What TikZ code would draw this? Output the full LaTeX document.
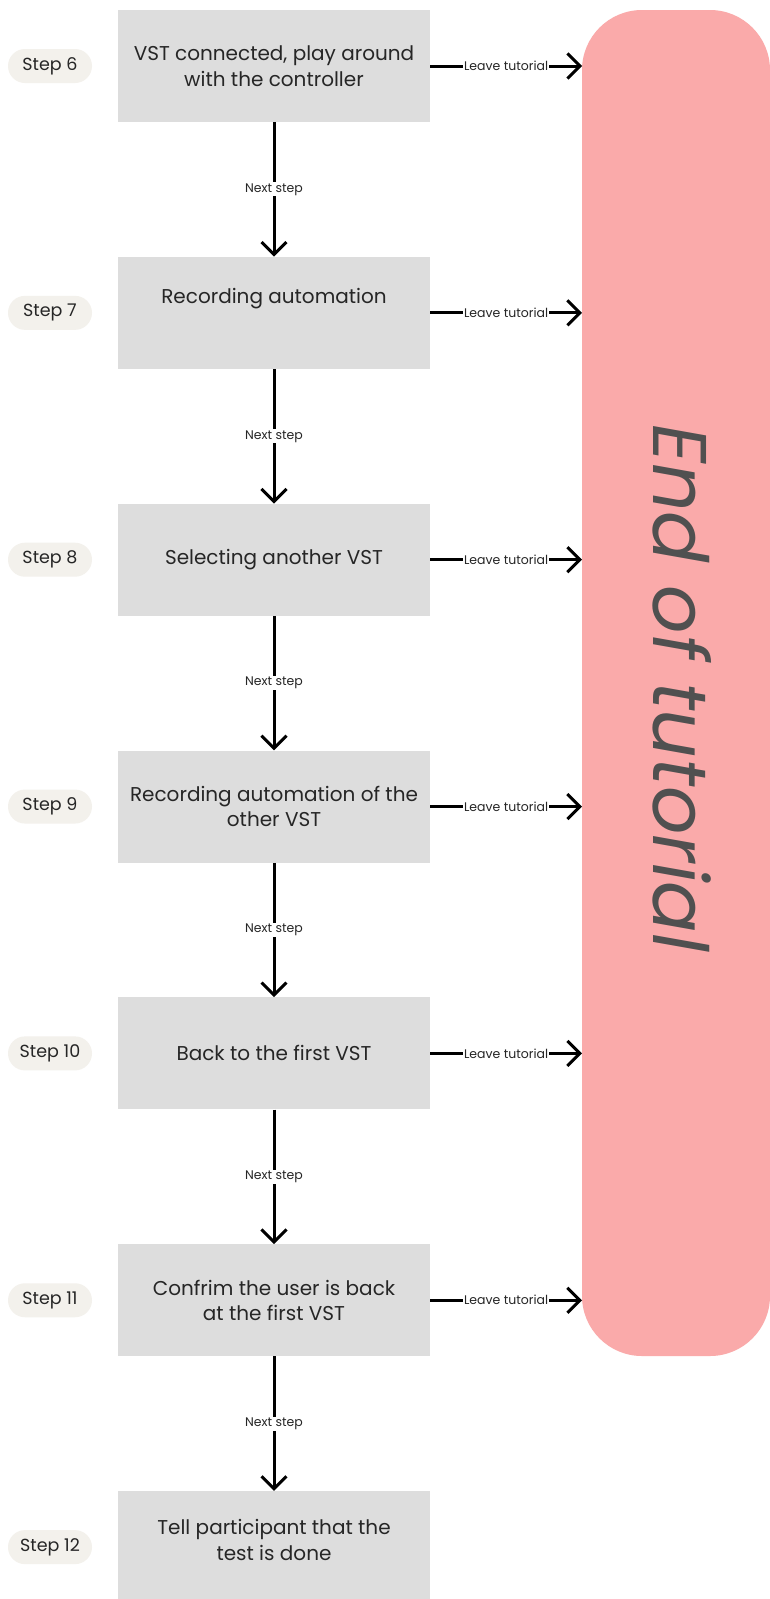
\documentclass[tikz,border=0pt]{standalone}
\usepackage{fontspec}
\setmainfont{Poppins}
\usetikzlibrary{arrows.meta,calc}
\definecolor{boxgray}{HTML}{DDDDDD}
\definecolor{pillfill}{HTML}{F3F1EC}
\definecolor{endpink}{HTML}{FAAAAA}
\definecolor{inktext}{HTML}{262626}
\definecolor{endtext}{HTML}{505050}
\tikzset{
  boxfont/.style={font=\fontsize{20}{25.5}\selectfont},
  stepbox/.style={fill=boxgray, draw=none, minimum width=312pt, minimum height=112pt,
    inner sep=0pt, align=center, text=inktext, boxfont},
  pill/.style={fill=pillfill, draw=none, rounded corners=17pt, minimum width=84pt,
    minimum height=34pt, inner sep=0pt, text=inktext, font=\fontsize{17.5}{19}\selectfont},
  flow/.style={line width=3pt, -{Straight Barb[length=12.5pt,width=25pt,line width=3pt]}},
  flowlabel/.style={fill=white, inner sep=1pt, text=inktext},
  nextlbl/.style={flowlabel, font=\fontsize{12.5}{14}\selectfont},
  leavelbl/.style={flowlabel, font=\fontsize{12.5}{14}\selectfont},
}
\begin{document}
\begin{tikzpicture}[x=1pt,y=-1pt]
\useasboundingbox (0,0) rectangle (769,1599);
\fill[white] (0,0) rectangle (769,1599);

% end-of-tutorial panel
\fill[endpink, rounded corners=60pt] (582,10) rectangle (770,1356);
\node[rotate=-90, anchor=base, text=endtext,
  font=\itshape\fontsize{76}{76}\selectfont] (endlbl) at (653,688) {End of tutorial};
\coordinate (endedge) at (582,0);

% step boxes
\node[stepbox] (s6) at (274,66) {VST connected, play around\\with the controller};
\node[stepbox] (s7) at (274,312.85) {};
\node[text=inktext, boxfont] (s7t) at ($(s7.center)+(0,-14)$) {Recording automation};
\node[stepbox] (s8) at (274,559.7) {Selecting another VST};
\node[stepbox] (s9) at (274,806.55) {Recording automation of the\\other VST};
\node[stepbox] (s10) at (274,1053.4) {Back to the first VST};
\node[stepbox] (s11) at (274,1300.25) {Confrim the user is back\\at the first VST};
\node[stepbox] (s12) at (274,1547.1) {};
\node[text=inktext, align=center, boxfont] (s12t) at (274,1540) {Tell participant that the\\test is done};

% step pills
\node[pill] (p6) at (50,66) {Step 6};
\node[pill] (p7) at (50,312.85) {Step 7};
\node[pill] (p8) at (50,559.7) {Step 8};
\node[pill] (p9) at (50,806.55) {Step 9};
\node[pill] (p10) at (50,1053.4) {Step 10};
\node[pill] (p11) at (50,1300.25) {Step 11};
\node[pill] (p12) at (50,1547.1) {Step 12};

% next-step connectors
\foreach \a/\b in {s6/s7,s7/s8,s8/s9,s9/s10,s10/s11,s11/s12}{
  \draw[flow] (\a.south) -- node[nextlbl]{Next step} (\b.north);
}

% leave-tutorial connectors
\foreach \a in {s6,s7,s8,s9,s10,s11}{
  \draw[flow] (\a.east) -- node[leavelbl]{Leave tutorial} (\a.east -| endedge);
}
\end{tikzpicture}
\end{document}
